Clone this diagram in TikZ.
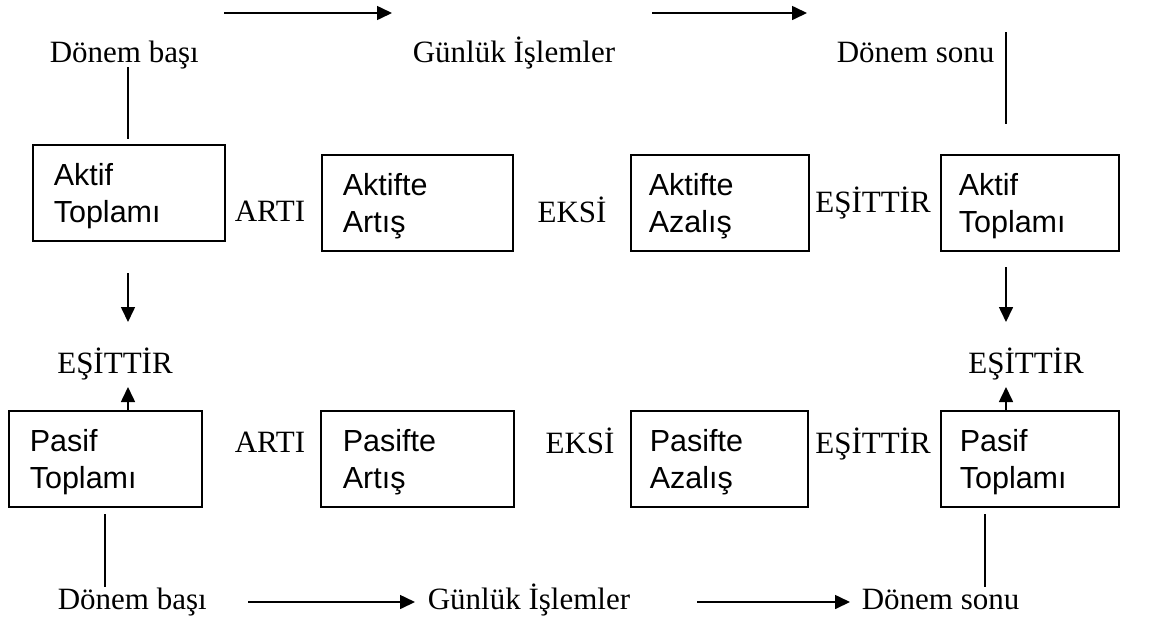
\documentclass[tikz,border=0pt]{standalone}
\usepackage{fontspec}
\setmainfont{Liberation Serif}
\newfontfamily\boxfont{Liberation Sans}
\usetikzlibrary{arrows.meta}
% two left-aligned lines inside a box, first baseline raised from the centre
\newcommand\acctlines[3]{\makebox[#1][l]{\raisebox{7pt}[0pt][0pt]{\begin{tabular}[t]{@{}l@{}}#2\\#3\end{tabular}}}}
\begin{document}
\begin{tikzpicture}[x=1pt, y=-1pt, line width=1.6pt,
  term/.style={inner sep=0pt, anchor=base west, font=\fontsize{31}{35}\selectfont},
  op/.style={inner sep=0pt, anchor=base, font=\fontsize{31}{35}\selectfont},
  acct/.style={draw, line width=1.6pt, anchor=north west, inner xsep=#1, inner ysep=0pt,
    font=\boxfont\fontsize{30.5}{37}\selectfont},
  flow/.style={-{Triangle[length=15pt,width=14pt]}, line width=1.6pt}]
\useasboundingbox (0,0) rectangle (1166,622);

% account boxes: assets (top row), liabilities (bottom row)
\node[acct=21, minimum width=192pt, minimum height=96pt] (b1) at (32,144) {\acctlines{150pt}{Aktif}{Toplamı}};
\node[acct=21, minimum width=191pt, minimum height=96pt] (b2) at (321,154) {\acctlines{149pt}{Aktifte}{Artış}};
\node[acct=18, minimum width=178pt, minimum height=96pt] (b3) at (630,154) {\acctlines{142pt}{Aktifte}{Azalış}};
\node[acct=18, minimum width=178pt, minimum height=96pt] (b4) at (940,154) {\acctlines{142pt}{Aktif}{Toplamı}};
\node[acct=21, minimum width=193pt, minimum height=96pt] (b5) at (8,410) {\acctlines{151pt}{Pasif}{Toplamı}};
\node[acct=22, minimum width=193pt, minimum height=96pt] (b6) at (320,410) {\acctlines{149pt}{Pasifte}{Artış}};
\node[acct=19, minimum width=177pt, minimum height=96pt] (b7) at (630,410) {\acctlines{139pt}{Pasifte}{Azalış}};
\node[acct=19, minimum width=178pt, minimum height=96pt] (b8) at (940,410) {\acctlines{140pt}{Pasif}{Toplamı}};

% operators between the boxes
\node[op] (opA1) at (270,221) {ARTI};
\node[op] (opE1) at (572,222) {EKSİ};
\node[op] (opQ1) at (873,212) {EŞİTTİR};
\node[op] (opA2) at (270,452) {ARTI};
\node[op] (opE2) at (580,453) {EKSİ};
\node[op] (opQ2) at (873,453) {EŞİTTİR};
\node[op] (eqL) at (115,373) {EŞİTTİR};
\node[op] (eqR) at (1026,373) {EŞİTTİR};

% period labels
\node[term] (tdb) at (49,62) {Dönem başı};
\node[term] (tgi) at (412,62) {Günlük İşlemler};
\node[term] (tds) at (836,62) {Dönem sonu};
\node[term] (bdb) at (57,609) {Dönem başı};
\node[term] (bgi) at (427,609) {Günlük İşlemler};
\node[term] (bds) at (861,609) {Dönem sonu};

% connector end points
\coordinate (ta1) at (224,13);  \coordinate (ta2) at (392,13);
\coordinate (ta3) at (652,13);  \coordinate (ta4) at (807,13);
\coordinate (ba1) at (248,602); \coordinate (ba2) at (415,602);
\coordinate (ba3) at (697,602); \coordinate (ba4) at (850,602);
\coordinate (vl1) at (128,67);  \coordinate (vl2) at (128,139);
\coordinate (vr1) at (1006,32); \coordinate (vr2) at (1006,124);
\coordinate (dl1) at (128,273); \coordinate (dl2) at (128,322);
\coordinate (dr1) at (1006,267);\coordinate (dr2) at (1006,322);
\coordinate (ul) at (128,387);  \coordinate (ur) at (1006,387);
\coordinate (ll1) at (105,514); \coordinate (ll2) at (105,587);
\coordinate (lr1) at (985,514); \coordinate (lr2) at (985,587);

% time flow
\draw[flow] (ta1) -- (ta2);
\draw[flow] (ta3) -- (ta4);
\draw[flow] (ba1) -- (ba2);
\draw[flow] (ba3) -- (ba4);

% links between period labels, boxes and equalities
\draw (vl1) -- (vl2);
\draw (vr1) -- (vr2);
\draw[flow] (dl1) -- (dl2);
\draw[flow] (dr1) -- (dr2);
\draw[flow] (b5.north -| ul) -- (ul);
\draw[flow] (b8.north -| ur) -- (ur);
\draw (ll1) -- (ll2);
\draw (lr1) -- (lr2);
\end{tikzpicture}
\end{document}
